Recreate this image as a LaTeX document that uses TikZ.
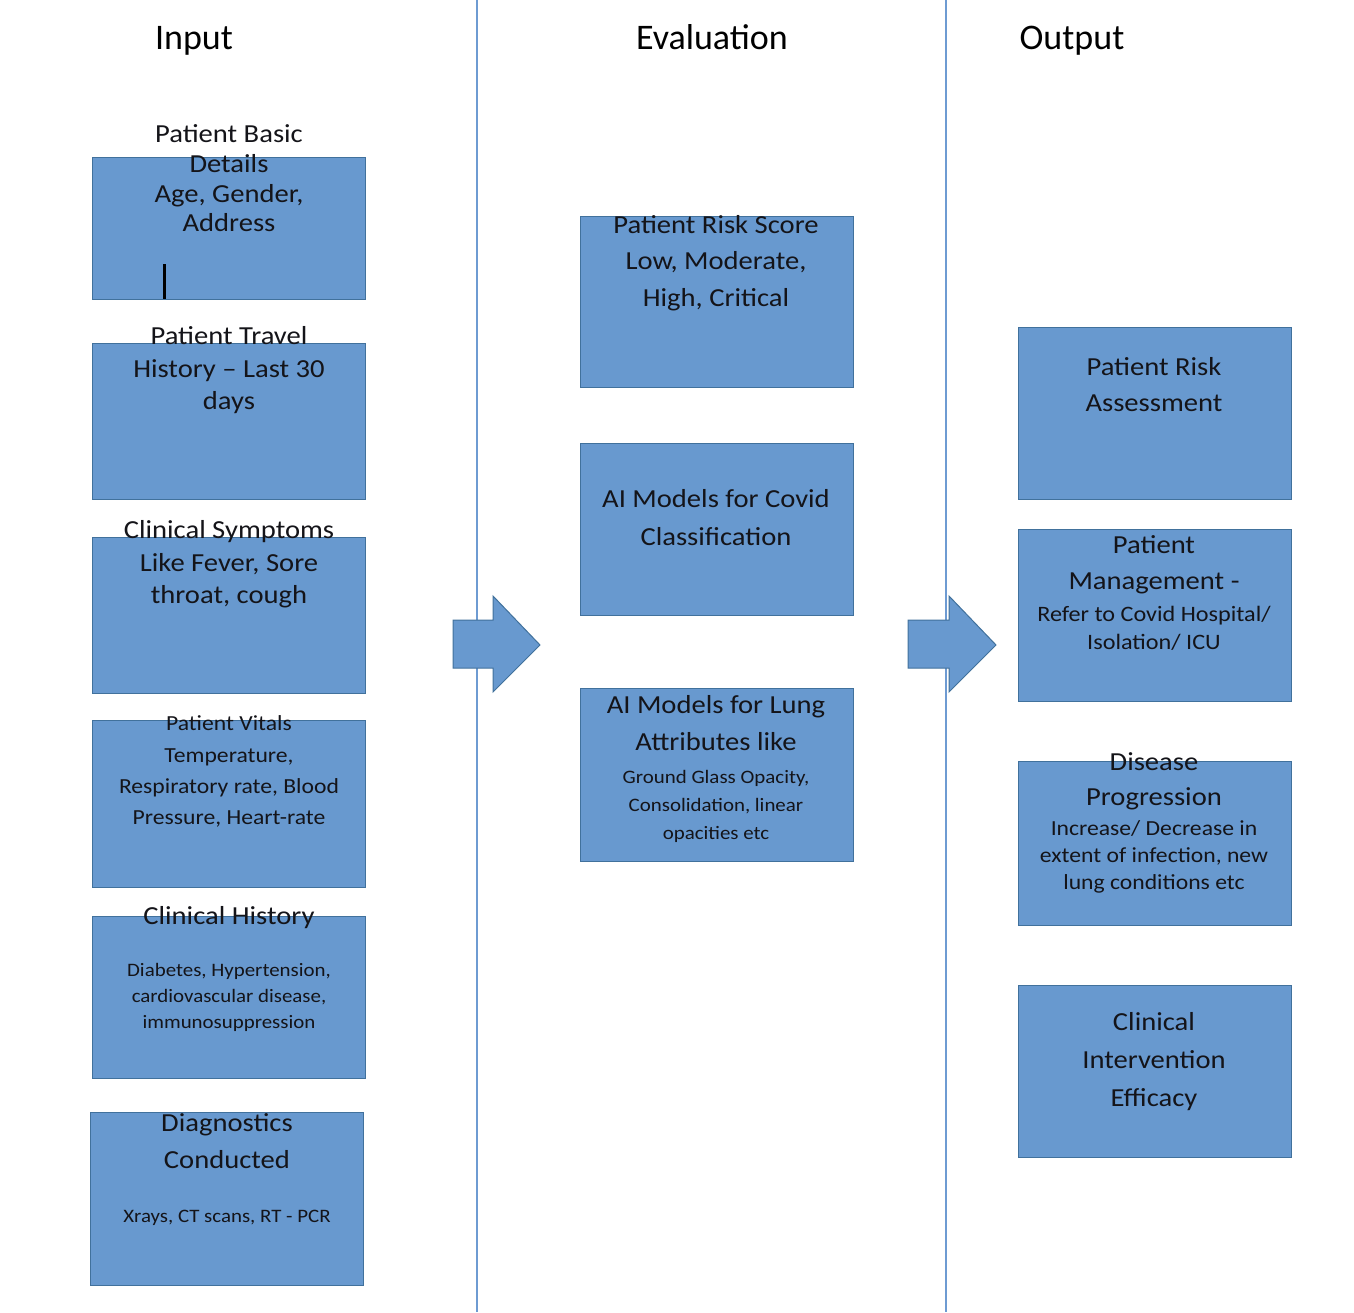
\documentclass[tikz,border=0pt]{standalone}
\usepackage{fontspec}
\setmainfont{Carlito}
\newfontfamily\boxfont[FakeStretch=1.1]{Carlito}
\definecolor{boxfill}{RGB}{104,153,207}
\definecolor{boxline}{RGB}{65,113,156}
\definecolor{sepline}{RGB}{110,155,210}
\definecolor{txt}{RGB}{20,20,25}
\begin{document}
\begin{tikzpicture}[x=1pt,y=-1pt,
  box/.style={draw=boxline, fill=boxfill, line width=1.3pt, anchor=north west, inner sep=0pt, minimum width=273pt},
  hdr/.style={anchor=base, inner sep=0pt, font=\fontsize{36}{40}\selectfont},
  tl/.style={anchor=mid, inner sep=0pt, text=txt, font=\boxfont\fontsize{26}{30}\selectfont},
  tm/.style={anchor=mid, inner sep=0pt, text=txt, font=\boxfont\fontsize{21.5}{25}\selectfont},
  tr/.style={anchor=mid, inner sep=0pt, text=txt, font=\boxfont\fontsize{22}{25}\selectfont},
  ts/.style={anchor=mid, inner sep=0pt, text=txt, font=\boxfont\fontsize{19}{23}\selectfont},
  blockarrow/.style={fill=boxfill, draw=boxline, line width=1pt}]
\useasboundingbox (0,0) rectangle (1354,1312);
% column separators
\coordinate (s1t) at (477,0); \coordinate (s1b) at (477,1312);
\coordinate (s2t) at (946,0); \coordinate (s2b) at (946,1312);
\draw[sepline, line width=1.3pt] (s1t) -- (s1b);
\draw[sepline, line width=1.3pt] (s2t) -- (s2b);
% headers
\node[hdr] (hin) at (194,49) {Input};
\node[hdr] (hev) at (712,49) {Evaluation};
\node[hdr] (hout) at (1072,49) {Output};
% input boxes
\node[box, minimum height=142pt] (in1) at (92,157) {};
\node[box, minimum height=156pt] (in2) at (92,343) {};
\node[box, minimum height=156pt] (in3) at (92,537) {};
\node[box, minimum height=167pt] (in4) at (92,720) {};
\node[box, minimum height=162pt] (in5) at (92,916) {};
\node[box, minimum height=173pt] (in6) at (90,1112) {};
% evaluation boxes
\node[box, minimum height=171pt] (ev1) at (580,216) {};
\node[box, minimum height=172pt] (ev2) at (580,443) {};
\node[box, minimum height=173pt] (ev3) at (580,688) {};
% output boxes
\node[box, minimum height=172pt] (out1) at (1018,327) {};
\node[box, minimum height=172pt] (out2) at (1018,529) {};
\node[box, minimum height=164pt] (out3) at (1018,761) {};
\node[box, minimum height=172pt] (out4) at (1018,985) {};
% black bar
\coordinate (bart) at (164,264); \coordinate (barb) at (164,299);
\draw[black, line width=3pt] (bart) -- (barb);
% block arrows
\filldraw[blockarrow] (453,620) -- (493,620) -- (493,596) -- (540,645) -- (493,692) -- (493,668) -- (453,668) -- cycle;
\filldraw[blockarrow] (908,620) -- (949,620) -- (949,596) -- (996,645) -- (949,692) -- (949,668) -- (908,668) -- cycle;
\begin{scope}[yshift=-6pt]
% input texts
\node[tl] (t1a) at (229,134) {Patient Basic};
\node[tl] (t1b) at (229,164) {Details};
\node[tl] (t1c) at (229,194) {Age, Gender,};
\node[tl] (t1d) at (229,223) {Address};
\node[tl] (t2a) at (229,336) {Patient Travel};
\node[tl] (t2b) at (229,369) {History – Last 30};
\node[tl] (t2c) at (229,401) {days};
\node[tl] (t3a) at (229,530) {Clinical Symptoms};
\node[tl] (t3b) at (229,563) {Like Fever, Sore};
\node[tl] (t3c) at (229,595) {throat, cough};
\node[tm] (t4a) at (229,722) {Patient Vitals};
\node[tm] (t4b) at (229,754) {Temperature,};
\node[tm] (t4c) at (229,785) {Respiratory rate, Blood};
\node[tm] (t4d) at (229,816) {Pressure, Heart-rate};
\node[tl] (t5a) at (229,916) {Clinical History};
\node[ts] (t5b) at (229,968) {Diabetes, Hypertension,};
\node[ts] (t5c) at (229,994) {cardiovascular disease,};
\node[ts] (t5d) at (229,1020) {immunosuppression};
\node[tl] (t6a) at (227,1123) {Diagnostics};
\node[tl] (t6b) at (227,1160) {Conducted};
\node[ts] (t6c) at (227,1214) {Xrays, CT scans, RT - PCR};
% evaluation texts
\node[tl] (e1a) at (716,225) {Patient Risk Score};
\node[tl] (e1b) at (716,261) {Low, Moderate,};
\node[tl] (e1c) at (716,298) {High, Critical};
\node[tl] (e2a) at (716,499) {AI Models for Covid};
\node[tl] (e2b) at (716,537) {Classification};
\node[tl] (e3a) at (716,705) {AI Models for Lung};
\node[tl] (e3b) at (716,742) {Attributes like};
\node[ts] (e3c) at (716,775) {Ground Glass Opacity,};
\node[ts] (e3d) at (716,803) {Consolidation, linear};
\node[ts] (e3e) at (716,831) {opacities etc};
% output texts
\node[tl] (o1a) at (1154,367) {Patient Risk};
\node[tl] (o1b) at (1154,403) {Assessment};
\node[tl] (o2a) at (1154,545) {Patient};
\node[tl] (o2b) at (1154,581) {Management -};
\node[tr] (o2c) at (1154,613) {Refer to Covid Hospital/};
\node[tr] (o2d) at (1154,641) {Isolation/ ICU};
\node[tl] (o3a) at (1154,762) {Disease};
\node[tl] (o3b) at (1154,797) {Progression};
\node[tm] (o3c) at (1154,827) {Increase/ Decrease in};
\node[tm] (o3d) at (1154,854) {extent of infection, new};
\node[tm] (o3e) at (1154,881) {lung conditions etc};
\node[tl] (o4a) at (1154,1022) {Clinical};
\node[tl] (o4b) at (1154,1060) {Intervention};
\node[tl] (o4c) at (1154,1098) {Efficacy};
\end{scope}
\end{tikzpicture}
\end{document}
